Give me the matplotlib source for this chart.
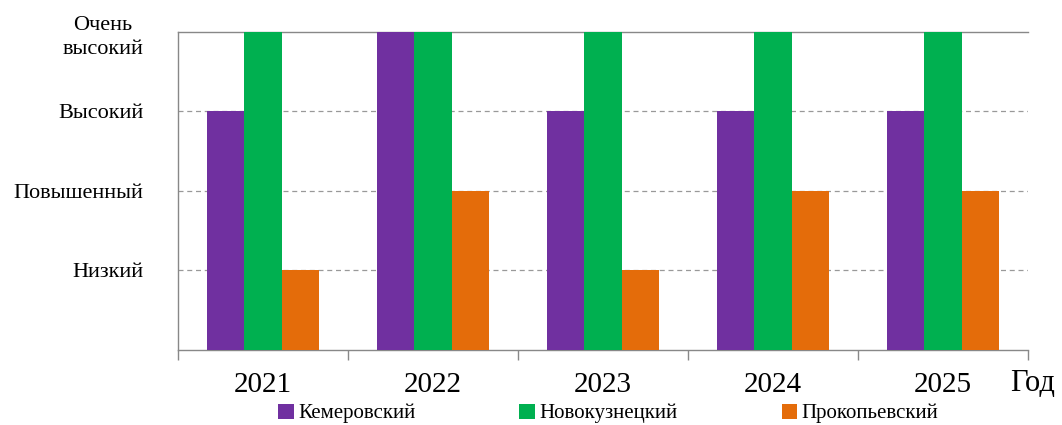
import matplotlib.pyplot as plt
import numpy as np

plt.rcParams['font.family'] = ['Liberation Serif', 'DejaVu Serif']

years = ['2021', '2022', '2023', '2024', '2025']
levels = ['Низкий', 'Повышенный', 'Высокий', 'Очень\nвысокий']
kemerovo = [3, 4, 3, 3, 3]
novokuznetsk = [4, 4, 4, 4, 4]
prokopyevsk = [1, 2, 1, 2, 2]

series = [
    ('Кемеровский', kemerovo, '#7030A0'),
    ('Новокузнецкий', novokuznetsk, '#00B050'),
    ('Прокопьевский', prokopyevsk, '#E46C0A'),
]

fig = plt.figure(figsize=(10.62, 4.25), dpi=100)
ax = fig.add_axes([0.1676, 0.1765, 0.8004, 0.7482])

x = np.arange(len(years))
w = 0.218
for i, (name, vals, color) in enumerate(series):
    ax.bar(x + (i - 1) * w, vals, w, color=color, label=name, zorder=3)

ax.set_xlim(-0.5, len(years) - 0.5)
ax.set_ylim(0, 4)

# y axis: qualitative levels, dashed grid
ax.set_yticks(range(1, 5))
ax.set_yticklabels(levels, fontsize=16, ha='right', multialignment='center',
                   linespacing=1.4)
ax.tick_params(axis='y', length=0, pad=25)
for lvl in range(1, 4):
    ax.axhline(lvl, color='#999999', lw=0.9, ls=(0, (4, 3)), zorder=1)

# x axis: years centred, ticks at group boundaries
ax.set_xticks(x)
ax.set_xticklabels(years, fontsize=21)
ax.tick_params(axis='x', which='major', length=0, pad=16)
ax.set_xticks(np.arange(-0.5, len(years)), minor=True)
ax.tick_params(axis='x', which='minor', length=7, width=1, color='#888888', direction='out')

for side in ['left', 'top', 'bottom']:
    ax.spines[side].set_color('#888888')
    ax.spines[side].set_linewidth(1)
ax.spines['right'].set_visible(False)

fig.text(0.951, 0.098, 'Год', fontsize=22, ha='left', va='center')

fig.legend(loc='center left', bbox_to_anchor=(0.262, 0.027), ncol=3, frameon=False,
           fontsize=15, handlelength=0.75, handleheight=0.75, handletextpad=0.2,
           columnspacing=5.0, borderaxespad=0, borderpad=0)

fig.savefig('out.png', dpi=100)
